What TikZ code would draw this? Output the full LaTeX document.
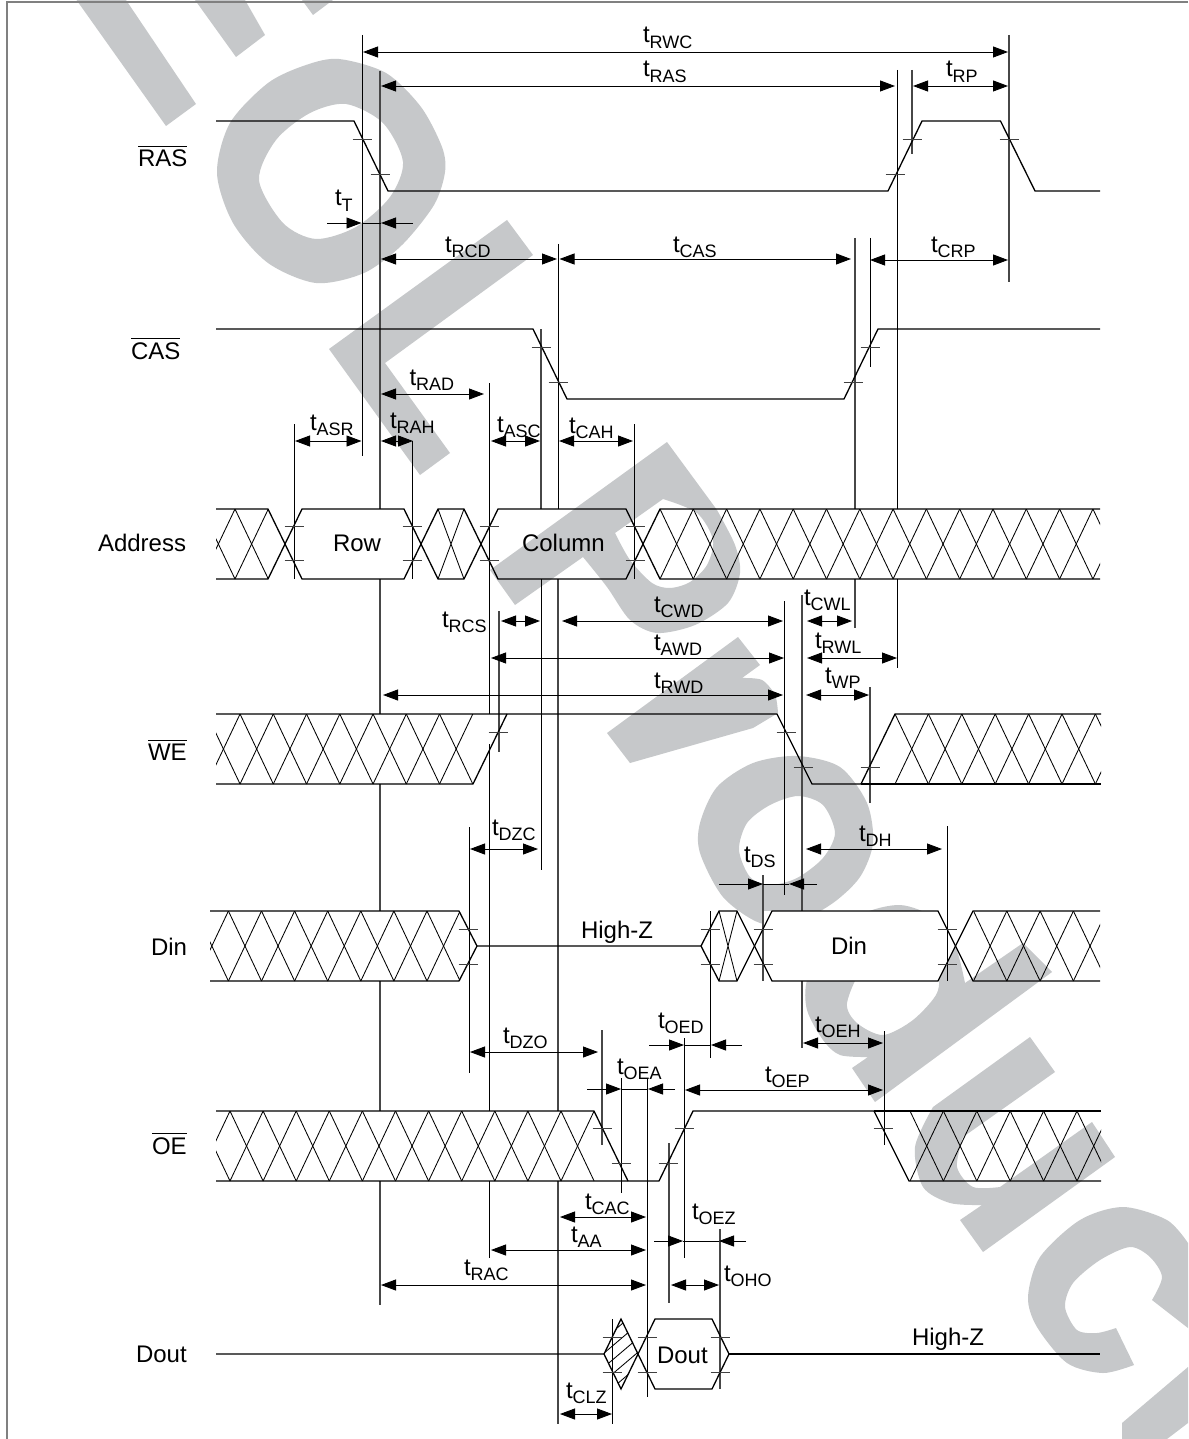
\documentclass[tikz,border=0pt]{standalone}
\usepackage{fontspec}
\setmainfont{Liberation Sans}
\usetikzlibrary{arrows.meta}
\definecolor{wmgray}{HTML}{C6C8CA}
\tikzset{
  wm/.style={fill=wmgray,draw=none},
  sig/.style={draw=black,line width=1.3pt,line join=miter},
  xl/.style={draw=black,line width=0.85pt},
  vl/.style={draw=black,line width=0.95pt},
  vg/.style={draw=black!72,line width=1.2pt},
  tk/.style={draw=black!75,line width=0.9pt},
  dim/.style={draw=black,line width=0.9pt},
  both/.style={dim,{Triangle[length=15pt,width=11pt]}-{Triangle[length=15pt,width=11pt]}},
  one/.style={dim,-{Triangle[length=15pt,width=11pt]}},
  lab/.style={anchor=base west,inner sep=0pt,outer sep=0pt,font=\fontsize{24}{24}\selectfont},
}
\newcommand\tl[3]{\node[lab] (t#3) at (#1,#2) {t\raisebox{-5.5pt}{\fontsize{18}{18}\selectfont #3}};}
\newcommand\ovl[1]{\leavevmode\vbox{\hrule height 0.9pt\kern 3pt\hbox{#1}}}
\newcommand\vln[3]{\draw[vl] (#1,#2) -- (#1,#3);}
\newcommand\vlg[3]{\draw[vg] (#1,#2) -- (#1,#3);}
\newcommand\ar[3]{\draw[both] (#2,#1) -- (#3,#1);}
% two arrows pointing inward, with a joining segment: y, outer left, inner left, inner right, outer right
\newcommand\arin[5]{\draw[one] (#2,#1) -- (#3,#1); \draw[one] (#5,#1) -- (#4,#1); \draw[dim] (#3,#1) -- (#4,#1);}
\newcommand\xb[6]{% clip x0, clip x1, top, first vertex, last k, pitch
  \begin{scope}\clip (#1,#3) rectangle (#2,{#3+70});
  \foreach \k in {0,...,#5}{\pgfmathsetmacro\aa{#4+#6*\k}
    \draw[xl] (\aa,#3) -- ({\aa+#6},{#3+70});
    \draw[xl] (\aa,{#3+70}) -- ({\aa+#6},#3);}
  \end{scope}}
\newcommand\tk[2]{\draw[tk] ({#1-9.5},#2) -- ({#1+9.5},#2);}
\begin{document}
\begin{tikzpicture}[x=1pt,y=-1pt]
\useasboundingbox (0,0) rectangle (1188,1439);
\fill[white] (0,0) rectangle (1188,1439);
% ---------- watermark
\fill[wm] (76.5,0) -- (126,0) -- (196,104) -- (166,126) -- cycle;
\fill[wm] (195,0) -- (245,0) -- (265,35) -- (236,57) -- cycle;
\fill[wm] (302,0) -- (313,15) -- (333,0) -- cycle;
\fill[wm,even odd rule] plot[smooth cycle] coordinates {(339,59)(386,73)(421,107)(442,147)(445,172)(434,205)(402,245)(364,273)(316,283)(268,263)(233,223)(217,173)(230,123)(268,83)(306,65)}
  plot[smooth cycle] coordinates {(346,104)(383,123)(403,162)(390,197)(356,227)(316,239)(283,223)(259,180)(276,140)(310,113)};
\fill[wm] (507,220) -- (533,255) -- (385,363) -- (450,453) -- (420,475) -- (329,349) -- cycle;
\fill[wm,even odd rule] (515,605) -- (490,570) -- (667,442) -- plot[smooth] coordinates {(717,510)(735,545)(740,573)(728,603)(695,625)(657,633)(630,620)(607,587)(583,557)} -- cycle
  (663,499) -- (615,533) -- plot[smooth] coordinates {(615,533)(630,560)(652,583)(670,588)(690,582)(707,565)(713,540)(697,513)(663,499)} -- cycle;
\fill[wm] (738,637) -- (760,665) -- (742,678) -- plot[smooth] coordinates {(742,678)(762,680)(775,695)(778,713)} -- (753,728) -- (630,763) -- (607,733) -- cycle;
\fill[wm,even odd rule] plot[smooth cycle] coordinates {(797,756)(840,767)(867,803)(873,843)(860,877)(833,903)(797,922)(760,923)(723,897)(700,853)(700,823)(717,787)(753,763)}
  plot[smooth cycle] coordinates {(798,796)(823,805)(835,833)(823,858)(797,878)(770,885)(750,877)(739,850)(747,823)(770,805)};
\fill[wm,even odd rule] (1023,943) -- (1052,972) -- (875,1102) -- (852,1068) -- (868,1057) -- plot[smooth] coordinates {(868,1057)(840,1055)(823,1040)(807,1010)(807,980)(825,945)(860,915)(900,905)(935,918)(955,945)(965,983)} -- cycle
  plot[smooth cycle] coordinates {(847,1003)(857,1023)(883,1035)(913,1020)(937,993)(935,970)(900,950)(865,965)};
\fill[wm] (1030,1037) -- (1055,1072) -- (963,1137) -- plot[smooth] coordinates {(963,1137)(957,1167)(973,1187)(1000,1187)} -- (1092,1122) -- (1115,1157) -- (983,1252) -- (960,1220) -- (982,1205) -- plot[smooth] coordinates {(982,1205)(950,1203)(923,1187)(915,1147)(933,1107)} -- cycle;
\fill[wm] (1188,1243) -- plot[smooth] coordinates {(1188,1243)(1167,1220)(1123,1207)(1080,1220)(1040,1257)(1028,1297)(1037,1327)(1067,1363)(1103,1373)(1134,1365)} -- (1116,1328) -- plot[smooth] coordinates {(1116,1328)(1097,1333)(1077,1330)(1065,1307)(1073,1283)(1100,1260)(1130,1247)(1150,1257)(1162,1277)(1152,1300)} -- (1188,1328) -- cycle;
\fill[wm] (1188,1367) -- (1122,1423) -- (1122,1439) -- (1167,1439) -- (1188,1423) -- cycle;
% white data box
\fill[white] (763,911) -- (938,911) -- (955,946) -- (938,981) -- (763,981) -- cycle;
% ---------- frame
\draw[draw=black!50,line width=1.4pt] (1188,2) -- (7,2) -- (7,1439);
% ---------- vertical reference lines
\vln{362}{35}{456}
\vlg{380}{71}{509} \vlg{380}{579}{714} \vlg{380}{784}{911} \vlg{380}{981}{1111} \vlg{380}{1181}{1305}
\vln{294}{424}{579}
\vln{412}{441}{579}
\vln{489}{383}{714} \vln{489}{744}{1111} \vln{489}{1181}{1258}
\vlg{541}{329}{509} \vln{541}{579}{870}
\vln{558}{244}{509} \vlg{558}{579}{1111} \vlg{558}{1181}{1424}
\vln{634}{424}{579}
\vlg{855}{238}{509} \vlg{855}{579}{628}
\vln{870}{238}{367}
\vln{897}{70}{509} \vln{897}{579}{668}
\vlg{912}{70}{154}
\vlg{1009}{35}{282}
\vlg{499}{611}{752}
\vln{784}{601}{895}
\vlg{802}{595}{911} \vlg{802}{981}{1048}
\vlg{870}{687}{803}
\vln{469}{827}{1073}
\vlg{602}{1030}{1145}
\vln{621}{1078}{1193}
\vln{647}{1078}{1397}
\vln{684}{1038}{1258}
\vln{710}{911}{1058}
\vlg{763}{875}{981}
\vln{947}{826}{981}
\vln{884}{1031}{1145}
\vlg{669}{1143}{1303}
\vlg{720}{1229}{1389}
\vln{612}{1319}{1424}
% ---------- RAS / CAS
\draw[sig] (216,121) -- (354,121) -- (388,191) -- (888,191) -- (922,121) -- (1000.5,121) -- (1035,191) -- (1100,191);
\draw[sig] (216,329) -- (533,329) -- (567,399) -- (844,399) -- (878,329) -- (1100,329);
\tk{362}{139}\tk{380}{174}\tk{895}{174}\tk{912}{139}\tk{1009}{139}
\tk{541}{347}\tk{558}{382}\tk{853}{382}\tk{870}{347}
% ---------- Address
\xb{216}{268}{509}{201.7}{1}{33.3}
\draw[xl] (438,509) -- (464,579) (464,509) -- (438,579);
\xb{660}{1100}{509}{660}{13}{33.3}
\draw[sig] (216,509) -- (268,509) -- (302,579) -- (404,579) -- (438,509) -- (464,509) -- (498,579) -- (626,579) -- (660,509) -- (1100,509);
\draw[sig] (216,579) -- (268,579) -- (302,509) -- (404,509) -- (438,579) -- (464,579) -- (498,509) -- (626,509) -- (660,579) -- (1100,579);
\foreach \xx in {294,412,489,635}{\tk{\xx}{526}\tk{\xx}{560.5}}
% ---------- WE
\xb{216}{473}{714}{206.8}{7}{33.25}
\xb{895}{1101}{714}{895}{6}{33.4}
\draw[sig] (216,714) -- (777,714) -- (812,784) -- (861,784) -- (895,714) -- (1101,714);
\draw[sig] (216,784) -- (473,784) -- (507,714);
\draw[sig] (861,784) -- (1101,784);
\tk{498}{732}\tk{786}{732}\tk{803}{767}\tk{870}{767}
% ---------- Din
\xb{210}{459.5}{911}{195.3}{7}{33.1}
\draw[xl] (719,911) -- (737,981) (737,911) -- (719,981);
\xb{973.5}{1100}{911}{973.5}{3}{33.3}
\draw[sig] (210,911) -- (459,911) -- (477,946) -- (459,981) -- (210,981);
\draw[sig] (477,946) -- (701,946) -- (719,911) -- (737,911) -- (772,981) -- (938,981) -- (973,911) -- (1100,911);
\draw[sig] (701,946) -- (719,981) -- (737,981) -- (772,911) -- (938,911) -- (973,981) -- (1100,981);
\foreach \yy in {929,964}{\tk{468}{\yy}\tk{710}{\yy}\tk{763}{\yy}\tk{947}{\yy}}
% ---------- OE
\xb{216}{594.5}{1111}{196.9}{11}{33.1}
\xb{910}{1101}{1111}{910}{5}{33.4}
\draw[sig] (216,1111) -- (594,1111) -- (628,1181);
\draw[sig] (216,1181) -- (659,1181) -- (693,1111) -- (874,1111) -- (909,1181) -- (1101,1181);
\draw[sig] (874,1111) -- (1101,1111);
\tk{602}{1128.5}\tk{621}{1163}\tk{668}{1163}\tk{684}{1128.5}\tk{883}{1128.5}
% ---------- Dout
\begin{scope}
\clip (604,1354) -- (621,1319) -- (638,1354) -- (621,1389) -- cycle;
\foreach \c in {1325,1339,1353,1367,1381}{\draw[xl] (590,{\c+26}) -- (650,{\c-25});}
\end{scope}
\draw[sig] (216,1354) -- (604,1354) -- (621,1319) -- (638,1354) -- (621,1389) -- (604,1354);
\draw[sig] (638,1354) -- (655,1319) -- (712,1319) -- (729,1354) -- (712,1389) -- (655,1389) -- (638,1354);
\draw[sig] (729,1354) -- (1100,1354);
\foreach \yy in {1337,1372}{\tk{612}{\yy}\tk{647}{\yy}\tk{720}{\yy}}
% ---------- dimension arrows
\ar{52}{363}{1008}
\ar{86}{381}{895}
\ar{86}{913}{1008}
\arin{223}{327}{361.5}{381}{413}
\ar{259}{381}{557}
\ar{259}{559.5}{851}
\ar{260}{870}{1008}
\ar{394}{381}{484}
\ar{441}{295}{361.5}
\ar{441}{381}{413}
\ar{441}{491}{540}
\ar{441}{559}{633}
\ar{621}{501}{540}
\ar{621}{562}{783}
\ar{621}{807}{852}
\ar{658}{491}{784}
\ar{658}{807}{897}
\ar{695}{383}{783}
\ar{695}{806}{869}
\ar{849}{470}{538}
\ar{849}{806}{942}
\arin{884}{719}{763}{789}{817}
\arin{1045}{649}{684}{711}{742}
\ar{1043}{803}{883}
\ar{1052}{470}{598}
\arin{1089}{587}{621}{648}{675}
\ar{1090}{685}{883}
\ar{1217}{560}{646}
\ar{1250}{491}{646}
\ar{1285}{381}{646}
\arin{1241}{654}{683}{719}{746}
\ar{1285}{671}{719}
\ar{1414}{560}{612}
% ---------- timing labels
\tl{643}{43}{RWC}
\tl{643}{77}{RAS}
\tl{946}{77}{RP}
\tl{673}{252}{CAS}
\tl{931}{252}{CRP}
\tl{335}{206}{T}
\tl{445}{252}{RCD}
\tl{409.5}{385}{RAD}
\tl{310}{430}{ASR}
\tl{390}{428}{RAH}
\tl{497}{432}{ASC}
\tl{569}{433}{CAH}
\tl{442}{627}{RCS}
\tl{654}{612}{CWD}
\tl{654}{650}{AWD}
\tl{654}{688}{RWD}
\tl{804}{605}{CWL}
\tl{815}{648}{RWL}
\tl{825}{683}{WP}
\tl{492}{835}{DZC}
\tl{859}{841}{DH}
\tl{744}{862}{DS}
\tl{503}{1043}{DZO}
\tl{658}{1028}{OED}
\tl{617}{1074}{OEA}
\tl{765}{1082}{OEP}
\tl{815}{1032}{OEH}
\tl{585}{1209}{CAC}
\tl{571}{1242}{AA}
\tl{464}{1275}{RAC}
\tl{692}{1219}{OEZ}
\tl{724}{1281}{OHO}
\tl{566}{1398}{CLZ}
% ---------- signal names
\node[lab] (nRAS) at (138,167) {\ovl{RAS}};
\node[lab] (nCAS) at (131,359) {\ovl{CAS}};
\node[lab] (nAddr) at (98,551) {Address};
\node[lab] (nWE) at (148,760) {\ovl{WE}};
\node[lab] (nDin) at (151,955) {Din};
\node[lab] (nOE) at (152,1154) {\ovl{OE}};
\node[lab] (nDout) at (136,1362) {Dout};
\node[lab] (bRow) at (333,551) {Row};
\node[lab] (bCol) at (522,551) {Column};
\node[lab] (bDin) at (831,954) {Din};
\node[lab] (bDout) at (657,1363) {Dout};
\node[lab] (hz1) at (581,938) {High-Z};
\node[lab] (hz2) at (912,1345) {High-Z};
\end{tikzpicture}
\end{document}
